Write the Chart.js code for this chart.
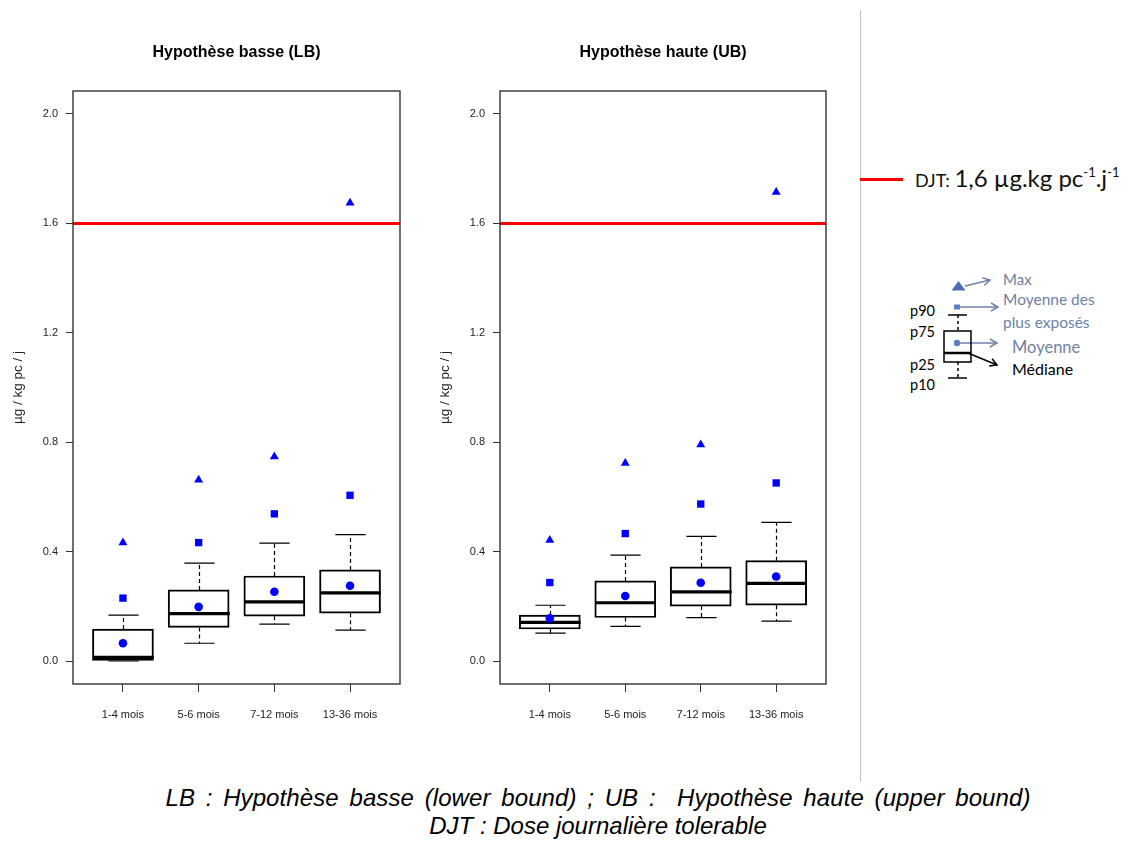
<!DOCTYPE html>
<html><head><meta charset="utf-8">
<script src="https://cdn.jsdelivr.net/npm/chart.js@4.4.0/dist/chart.umd.min.js"></script>
<style>
html,body{margin:0;padding:0;background:#fff}
body{width:1125px;height:841px;position:relative;overflow:hidden;font-family:"Liberation Sans",Arial,sans-serif}
canvas{position:absolute;top:0}
#c1{left:0}
#c2{left:427px}
#divider{position:absolute;left:860px;top:10px;width:1px;height:772px;background:#c4c4c4}
#djtLine{position:absolute;left:860px;top:178px;width:43px;height:3px;background:#ff0000}
#djtText{position:absolute;left:915px;top:163px;white-space:nowrap;font-family:Lato,"Noto Sans",sans-serif;color:#111}
#djtText .a{font-size:18px}
#djtText .b{font-size:24px}
#djtText sup{font-size:13px;vertical-align:10px;line-height:0}
#mini{position:absolute;left:850px;top:260px}
#caption{position:absolute;left:98px;top:784px;width:1000px;text-align:center;font-style:italic;font-size:24px;line-height:28px;color:#000}
#caption .l1{word-spacing:3.9px;letter-spacing:0.1px}
</style>
</head>
<body>
<canvas id="c1" width="420" height="760"></canvas>
<canvas id="c2" width="419" height="760"></canvas>
<div id="divider"></div>
<div id="djtLine"></div>
<div id="djtText"><span class="a">DJT: </span><span class="b">1,6 µg.kg pc<sup>-1</sup>.j<sup>-1</sup></span></div>
<svg id="mini" width="275" height="140" xmlns="http://www.w3.org/2000/svg" font-family="Lato, 'Noto Sans', sans-serif">
  <polygon points="101.5,30.5 115.5,30.5 108.5,21" fill="#4a6fb0"/>
  <g stroke="#6f82aa" stroke-width="1.5" fill="none">
    <line x1="115" y1="26" x2="140" y2="20"/>
    <polyline points="132.3,17.7 140,20 134.2,25.5"/>
    <line x1="110" y1="47" x2="148" y2="47"/>
    <polyline points="141,43 148,47 141,51"/>
    <line x1="107" y1="83" x2="147" y2="83"/>
    <polyline points="140,79 147,83 140,87"/>
  </g>
  <rect x="104" y="44.5" width="6" height="5" fill="#5b7fc0"/>
  <text x="153" y="25" font-size="15" fill="#6f7fa5">Max</text>
  <text x="153" y="45" font-size="15.5" fill="#6f7fa5">Moyenne des</text>
  <text x="153" y="68" font-size="15.5" fill="#6f7fa5">plus exposés</text>
  <text x="162" y="93" font-size="16.5" fill="#6f7fa5">Moyenne</text>
  <text x="162" y="115" font-size="16" fill="#000">Médiane</text>
  <text x="60" y="56" font-size="14.5" fill="#000">p90</text>
  <text x="60" y="77" font-size="14.5" fill="#000">p75</text>
  <text x="60" y="110" font-size="14.5" fill="#000">p25</text>
  <text x="60" y="130" font-size="14.5" fill="#000">p10</text>
  <g stroke="#000" stroke-width="1.5" fill="none">
    <line x1="98" y1="55" x2="117" y2="55"/>
    <line x1="108" y1="55" x2="108" y2="71" stroke-dasharray="3,3"/>
    <rect x="94" y="71" width="27" height="31"/>
    <line x1="94" y1="93" x2="121" y2="93" stroke-width="2.5"/>
    <line x1="108" y1="102" x2="108" y2="118" stroke-dasharray="3,3"/>
    <line x1="98" y1="118" x2="117" y2="118"/>
    <line x1="118" y1="93" x2="147" y2="105"/>
    <polyline points="142.1,98.7 147,105 139.1,106"/>
  </g>
  <circle cx="107" cy="83" r="3.2" fill="#5b7fc0"/>
</svg>
<div id="caption"><span class="l1">LB : Hypothèse basse (lower bound) ; UB :&nbsp; Hypothèse haute (upper bound)</span><br>DJT : Dose journalière tolerable</div>

<script>
// ---- data ----
const categories = ['1-4 mois', '5-6 mois', '7-12 mois', '13-36 mois'];
const yTicks = [0.0, 0.4, 0.8, 1.2, 1.6, 2.0];
const yMin = -0.084, yMax = 2.084;
const xMin = 0.34, xMax = 4.66;
const djt = 1.6;

// Hypothèse basse (LB)
const lbP10      = [0.000, 0.065, 0.135, 0.113];
const lbP25      = [0.000, 0.123, 0.164, 0.175];
const lbMedian   = [0.013, 0.173, 0.216, 0.249];
const lbP75      = [0.117, 0.260, 0.311, 0.333];
const lbP90      = [0.168, 0.358, 0.431, 0.462];
const lbMean     = [0.065, 0.198, 0.253, 0.275];
const lbMeanTop  = [0.230, 0.433, 0.538, 0.606];
const lbMax      = [0.433, 0.662, 0.747, 1.675];

// Hypothèse haute (UB)
const ubP10      = [0.102, 0.127, 0.159, 0.146];
const ubP25      = [0.117, 0.159, 0.201, 0.204];
const ubMedian   = [0.141, 0.213, 0.253, 0.284];
const ubP75      = [0.168, 0.293, 0.344, 0.367];
const ubP90      = [0.204, 0.387, 0.456, 0.507];
const ubMean     = [0.156, 0.238, 0.286, 0.309];
const ubMeanTop  = [0.287, 0.466, 0.574, 0.651];
const ubMax      = [0.442, 0.723, 0.791, 1.714];

const BLUE = '#0000ff';
const FONT = '"Liberation Sans", Arial, sans-serif';

const boxExtras = {
  id: 'boxExtras',
  afterDatasetDraw(chart, args, opts) {
    if (args.index !== 0) return;
    const s = opts.stats;
    const xs = chart.scales.x, ys = chart.scales.y;
    const ctx = chart.ctx;
    const halfBox = (xs.getPixelForValue(1.4) - xs.getPixelForValue(1));
    const halfCap = halfBox / 2;
    ctx.save();
    ctx.beginPath();
    ctx.rect(chart.chartArea.left, chart.chartArea.top, chart.chartArea.width, chart.chartArea.height);
    ctx.clip();
    ctx.strokeStyle = '#000';
    s.p10.forEach((_, i) => {
      const x = Math.round(xs.getPixelForValue(i + 1)) + 0.5;
      const y10 = ys.getPixelForValue(s.p10[i]);
      const y25 = ys.getPixelForValue(s.p25[i]);
      const y75 = ys.getPixelForValue(s.p75[i]);
      const y90 = ys.getPixelForValue(s.p90[i]);
      const ymed = ys.getPixelForValue(s.med[i]);
      ctx.lineWidth = 1.2;
      ctx.setLineDash([4, 3]);
      ctx.beginPath();
      ctx.moveTo(x, y75); ctx.lineTo(x, y90);
      ctx.moveTo(x, y25); ctx.lineTo(x, y10);
      ctx.stroke();
      ctx.setLineDash([]);
      ctx.beginPath();
      ctx.moveTo(x - halfCap, y90); ctx.lineTo(x + halfCap, y90);
      ctx.moveTo(x - halfCap, y10); ctx.lineTo(x + halfCap, y10);
      ctx.stroke();
      ctx.lineWidth = 3.2;
      ctx.beginPath();
      ctx.moveTo(x - halfBox, ymed); ctx.lineTo(x + halfBox, ymed);
      ctx.stroke();
    });
    ctx.restore();
  },
  afterDraw(chart, args, opts) {
    const a = chart.chartArea, ctx = chart.ctx;
    ctx.save();
    ctx.strokeStyle = '#333';
    ctx.lineWidth = 1.4;
    ctx.strokeRect(a.left, a.top, a.width, a.height);
    ctx.fillStyle = '#000';
    ctx.font = 'bold 16px ' + FONT;
    ctx.textAlign = 'center';
    ctx.textBaseline = 'middle';
    ctx.fillText(opts.title, (a.left + a.right) / 2, 53);
    ctx.restore();
  }
};

function makeChart(id, title, p10, p25, med, p75, p90, mean, meanTop, max) {
  const pts = arr => arr.map((v, i) => ({ x: i + 1, y: v }));
  return new Chart(document.getElementById(id), {
    type: 'bar',
    data: {
      datasets: [
        {
          type: 'bar',
          data: categories.map((c, i) => ({ x: i + 1, y: [p25[i], p75[i]] })),
          backgroundColor: 'rgba(255,255,255,0)',
          borderColor: '#000',
          borderWidth: 1.3,
          borderSkipped: false,
          barThickness: 61,
          order: 10
        },
        {
          type: 'line',
          data: [{ x: xMin, y: djt }, { x: xMax, y: djt }],
          borderColor: '#ff0000',
          borderWidth: 3,
          pointRadius: 0,
          order: 5
        },
        {
          type: 'scatter', data: pts(max), pointStyle: 'triangle', pointRadius: 5.2,
          backgroundColor: BLUE, borderColor: BLUE, borderWidth: 0, order: 1
        },
        {
          type: 'scatter', data: pts(meanTop), pointStyle: 'rect', pointRadius: 5.2,
          backgroundColor: BLUE, borderColor: BLUE, borderWidth: 0, order: 1
        },
        {
          type: 'scatter', data: pts(mean), pointStyle: 'circle', pointRadius: 4.3,
          backgroundColor: BLUE, borderColor: BLUE, borderWidth: 0, order: 1
        }
      ]
    },
    options: {
      responsive: false,
      animation: false,
      devicePixelRatio: 1,
      layout: { padding: { left: 0, right: 20, top: 91, bottom: 26 } },
      plugins: {
        legend: { display: false },
        tooltip: { enabled: false },
        title: { display: false },
        boxExtras: { stats: { p10, p25, med, p75, p90 }, title }
      },
      scales: {
        x: {
          type: 'linear', min: xMin, max: xMax, offset: false,
          afterBuildTicks: s => { s.ticks = categories.map((c, i) => ({ value: i + 1 })); },
          afterFit: s => { s.height = 50; },
          ticks: {
            callback: v => categories[v - 1],
            color: '#222', padding: 16, maxRotation: 0, autoSkip: false,
            font: { family: FONT, size: 11 }
          },
          grid: { offset: false, drawOnChartArea: false, drawTicks: true, tickLength: 8, color: '#333' },
          border: { display: false }
        },
        y: {
          type: 'linear', min: yMin, max: yMax,
          afterBuildTicks: s => { s.ticks = yTicks.map(v => ({ value: v })); },
          afterFit: s => { s.width = 73; },
          ticks: {
            callback: v => Number(v).toFixed(1),
            color: '#222', padding: 8,
            font: { family: FONT, size: 11 }
          },
          grid: { drawOnChartArea: false, drawTicks: true, tickLength: 7, color: '#333' },
          border: { display: false },
          title: {
            display: true, text: 'µg / kg pc / j', color: '#222',
            font: { family: FONT, size: 13.5 },
            padding: { top: 10, bottom: 0 }
          }
        }
      }
    },
    plugins: [boxExtras]
  });
}

makeChart('c1', 'Hypothèse basse (LB)', lbP10, lbP25, lbMedian, lbP75, lbP90, lbMean, lbMeanTop, lbMax);
makeChart('c2', 'Hypothèse haute (UB)', ubP10, ubP25, ubMedian, ubP75, ubP90, ubMean, ubMeanTop, ubMax);
</script>
</body></html>
